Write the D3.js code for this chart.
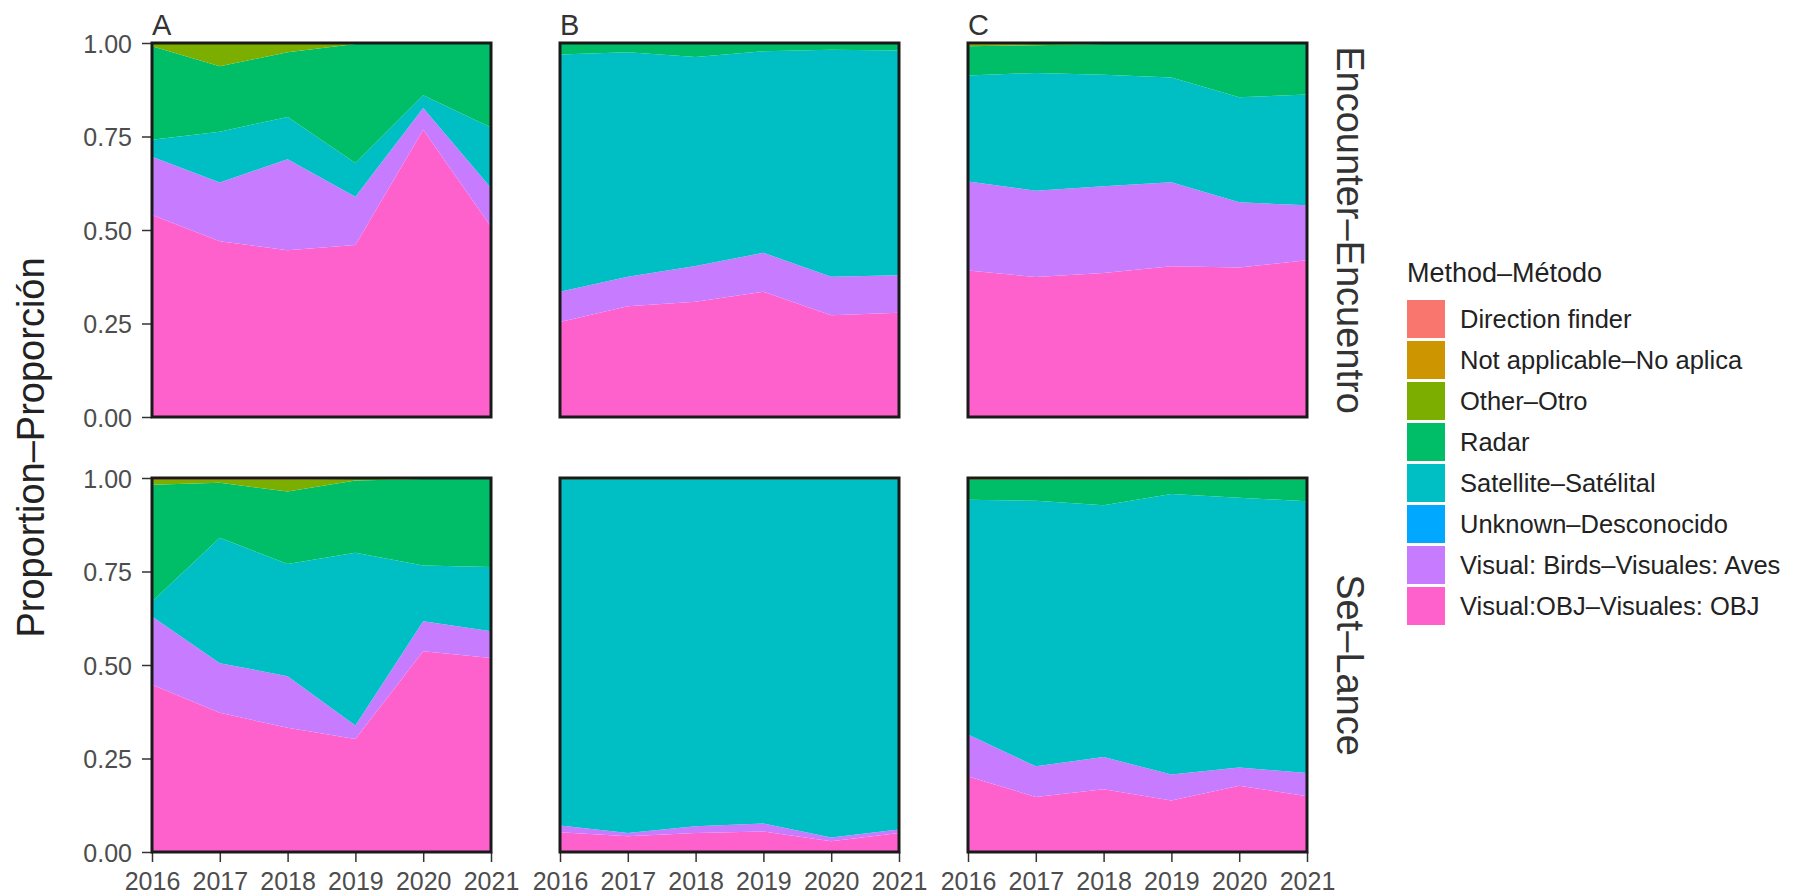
<!DOCTYPE html>
<html>
<head>
<meta charset="utf-8">
<script src="https://cdn.jsdelivr.net/npm/d3@7"></script>
<style>
  html, body { margin: 0; padding: 0; background: #fff; }
  svg { display: block; font-family: "Liberation Sans", Arial, Helvetica, sans-serif; }
</style>
</head>
<body>
<svg id="chart" width="1801" height="896"></svg>
<script>
// ---------- DATA ----------
const years = [2016, 2017, 2018, 2019, 2020, 2021];
const methods = [
  "Direction finder",
  "Not applicable–No aplica",
  "Other–Otro",
  "Radar",
  "Satellite–Satélital",
  "Unknown–Desconocido",
  "Visual: Birds–Visuales: Aves",
  "Visual:OBJ–Visuales: OBJ"
];
const methodColors = ["#F8766D", "#CD9600", "#7CAE00", "#00BE67", "#00BFC4", "#00A9FF", "#C77CFF", "#FF61CC"];
const columnLabels = ["A", "B", "C"];
const rowLabels = ["Encounter–Encuentro", "Set–Lance"];
const yTicks = [0, 0.25, 0.5, 0.75, 1];

// proportions per method (rows in order of `methods`), per year
const encounterA = [
  [0, 0, 0, 0, 0, 0],
  [0.001, 0.002, 0.002, 0, 0, 0],
  [0.008, 0.060, 0.023, 0.003, 0, 0],
  [0.250, 0.175, 0.173, 0.318, 0.140, 0.226],
  [0.045, 0.136, 0.113, 0.090, 0.034, 0.162],
  [0, 0, 0, 0, 0, 0],
  [0.156, 0.157, 0.243, 0.129, 0.058, 0.103],
  [0.540, 0.470, 0.446, 0.460, 0.768, 0.509]
];
const encounterB = [
  [0, 0, 0, 0, 0, 0],
  [0.001, 0.001, 0.001, 0.001, 0.001, 0.001],
  [0.001, 0.001, 0.001, 0.001, 0.001, 0.001],
  [0.029, 0.023, 0.0355, 0.020, 0.016, 0.018],
  [0.634, 0.600, 0.5585, 0.539, 0.607, 0.601],
  [0, 0, 0, 0, 0, 0],
  [0.081, 0.079, 0.096, 0.104, 0.103, 0.100],
  [0.254, 0.296, 0.308, 0.335, 0.272, 0.279]
];
const encounterC = [
  [0, 0, 0, 0, 0, 0],
  [0.004, 0.003, 0.001, 0.001, 0, 0],
  [0.005, 0.003, 0.002, 0.001, 0.001, 0.001],
  [0.078, 0.074, 0.082, 0.090, 0.144, 0.137],
  [0.283, 0.315, 0.298, 0.280, 0.281, 0.296],
  [0, 0, 0, 0, 0, 0],
  [0.238, 0.231, 0.232, 0.225, 0.174, 0.147],
  [0.392, 0.374, 0.385, 0.403, 0.400, 0.419]
];
const setA = [
  [0, 0, 0, 0, 0, 0],
  [0.005, 0.005, 0.005, 0.003, 0.002, 0.002],
  [0.013, 0.008, 0.031, 0.004, 0.001, 0.001],
  [0.312, 0.147, 0.194, 0.193, 0.231, 0.235],
  [0.040, 0.335, 0.300, 0.462, 0.149, 0.172],
  [0, 0, 0, 0, 0, 0],
  [0.183, 0.133, 0.138, 0.036, 0.080, 0.071],
  [0.447, 0.372, 0.332, 0.302, 0.537, 0.519]
];
const setB = [
  [0, 0, 0, 0, 0, 0],
  [0.002, 0.002, 0.002, 0.002, 0.002, 0.002],
  [0.001, 0, 0, 0, 0, 0],
  [0.002, 0.002, 0.002, 0.002, 0.002, 0.002],
  [0.924, 0.945, 0.927, 0.920, 0.957, 0.936],
  [0, 0, 0, 0, 0, 0],
  [0.018, 0.009, 0.018, 0.021, 0.010, 0.009],
  [0.053, 0.042, 0.051, 0.055, 0.029, 0.051]
];
const setC = [
  [0, 0, 0, 0, 0, 0],
  [0.003, 0.002, 0.003, 0.002, 0.001, 0.002],
  [0.002, 0.002, 0.002, 0.002, 0.002, 0.002],
  [0.053, 0.057, 0.068, 0.039, 0.050, 0.058],
  [0.628, 0.710, 0.673, 0.750, 0.721, 0.727],
  [0, 0, 0, 0, 0, 0],
  [0.112, 0.082, 0.086, 0.069, 0.049, 0.062],
  [0.202, 0.147, 0.168, 0.138, 0.177, 0.149]
];
const panelData = [
  [encounterA, encounterB, encounterC],
  [setA, setB, setC]
];

// ---------- LAYOUT ----------
const colX = [152, 560, 968];
const panelW = 339;
const rowY = [43, 478];
const panelH = 374;

const svg = d3.select("#chart");
const color = d3.scaleOrdinal().domain(methods).range(methodColors);
const x = d3.scaleLinear().domain([2016, 2021]).range([0, panelW]);
const y = d3.scaleLinear().domain([0, 1]).range([panelH, 0]);

// stack: last method (OBJ) at the bottom, first method on top
const stackKeys = methods.slice().reverse();
const stack = d3.stack().keys(stackKeys);
const area = d3.area()
  .x(d => x(d.data.year))
  .y0(d => y(d[0]))
  .y1(d => y(d[1]));

const FONT_TICK = 25;
const panelsLayer = svg.append("g").attr("class", "panels");
const bordersLayer = svg.append("g").attr("class", "borders");

panelData.forEach((row, ri) => {
  row.forEach((mat, ci) => {
    const rows = years.map((yr, yi) => {
      const o = { year: yr };
      methods.forEach((m, mi) => { o[m] = mat[mi][yi]; });
      return o;
    });
    const series = stack(rows);
    const g = panelsLayer.append("g").attr("transform", `translate(${colX[ci]},${rowY[ri]})`);
    g.append("g")
      .selectAll("path").data(series).join("path")
      .attr("fill", d => color(d.key))
      .attr("d", area);

    // y axis on first column
    if (ci === 0) {
      const ya = g.append("g").call(d3.axisLeft(y).tickValues(yTicks).tickFormat(d3.format(".2f")).tickSize(10).tickPadding(10));
      ya.select(".domain").remove();
      ya.selectAll(".tick line").attr("stroke", "#333").attr("stroke-width", 1.5);
      ya.selectAll(".tick text").attr("fill", "#4D4D4D").style("font-size", FONT_TICK + "px").attr("dy", "0.36em");
    }
    // x axis on bottom row
    if (ri === 1) {
      const xa = g.append("g").attr("transform", `translate(0,${panelH})`)
        .call(d3.axisBottom(x).tickValues(years).tickFormat(d3.format("d")).tickSize(10).tickPadding(10));
      xa.select(".domain").remove();
      xa.selectAll(".tick line").attr("stroke", "#333").attr("stroke-width", 1.5);
      xa.selectAll(".tick text").attr("fill", "#4D4D4D").style("font-size", FONT_TICK + "px").attr("dy", "0.71em");
    }
    // border (separate top layer)
    bordersLayer.append("path")
      .attr("d", `M${colX[ci]},${rowY[ri]}h${panelW}v${panelH}h${-panelW}Z`)
      .attr("fill", "none")
      .attr("stroke", "#1a1a1a")
      .attr("stroke-width", 3);

    // column letter
    if (ri === 0) {
      svg.append("text")
        .attr("x", colX[ci]).attr("y", rowY[0] - 8)
        .attr("fill", "#333").style("font-size", "29px")
        .text(columnLabels[ci]);
    }
  });
  // strip label (right)
  const sx = colX[2] + panelW + 44, sy = rowY[ri] + panelH / 2;
  svg.append("text")
    .attr("transform", `translate(${sx},${sy}) rotate(90)`)
    .attr("text-anchor", "middle").attr("dy", "0.36em")
    .attr("fill", "#333").style("font-size", "38px")
    .text(rowLabels[ri]);
});

// y axis title
svg.append("text")
  .attr("transform", `translate(30,${(rowY[0] + rowY[1] + panelH) / 2}) rotate(-90)`)
  .attr("text-anchor", "middle").attr("dy", "0.36em")
  .attr("fill", "#222").style("font-size", "38px")
  .text("Proportion–Proporción");

// legend
const lg = svg.append("g").attr("transform", "translate(1407,0)");
lg.append("text").attr("x", 0).attr("y", 282)
  .attr("fill", "#222").style("font-size", "27px")
  .text("Method–Método");
const items = lg.selectAll("g.item").data(methods).join("g")
  .attr("class", "item")
  .attr("transform", (d, i) => `translate(0,${300 + i * 41})`);
items.append("rect").attr("width", 38).attr("height", 38).attr("fill", d => color(d));
items.append("text").attr("x", 53).attr("y", 19).attr("dy", "0.36em")
  .attr("fill", "#222").style("font-size", "25.5px")
  .text(d => d);
</script>
</body>
</html>
